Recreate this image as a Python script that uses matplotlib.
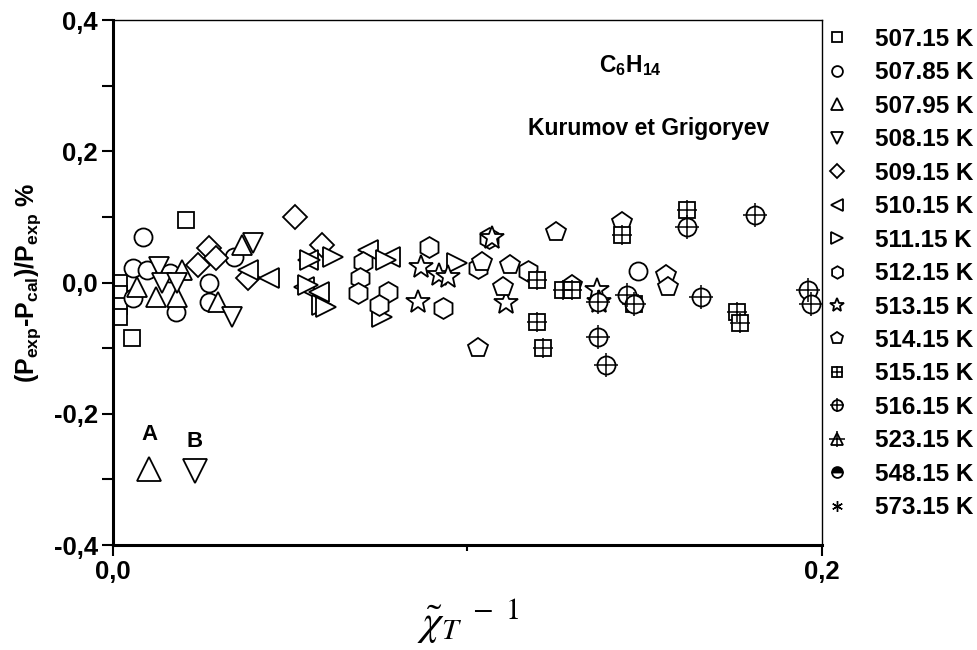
import matplotlib
matplotlib.use("Agg")
import matplotlib.pyplot as plt
from matplotlib.ticker import MultipleLocator, FuncFormatter
from matplotlib.legend_handler import HandlerTuple

plt.rcParams['font.family'] = ['Liberation Sans', 'DejaVu Sans']
plt.rcParams['mathtext.fontset'] = 'custom'
plt.rcParams['mathtext.rm'] = 'Liberation Sans:bold'
plt.rcParams['mathtext.bf'] = 'Liberation Sans:bold'
plt.rcParams['mathtext.it'] = 'Liberation Sans:bold'

# data
labels = ['507.15 K', '507.85 K', '507.95 K', '508.15 K', '509.15 K', '510.15 K',
          '511.15 K', '512.15 K', '513.15 K', '514.15 K', '515.15 K', '516.15 K',
          '523.15 K', '548.15 K', '573.15 K']

x_50715 = [0.0018, 0.0018, 0.0018, 0.0018, 0.0054, 0.0206]
y_50715 = [0.0, -0.018, -0.036, -0.053, -0.085, 0.096]
x_50785 = [0.0085, 0.0056, 0.0096, 0.0056, 0.016, 0.0178, 0.027, 0.027, 0.034, 0.148]
y_50785 = [0.070, 0.022, 0.019, -0.024, 0.014, -0.045, 0.0, -0.03, 0.039, 0.018]
x_50795 = [0.0068, 0.012, 0.018, 0.0195, 0.0296, 0.0364]
y_50795 = [-0.007, -0.022, -0.022, 0.019, -0.03, 0.057]
x_50815 = [0.013, 0.0138, 0.018, 0.0336, 0.0395]
y_50815 = [0.024, 0.0, 0.0, -0.052, 0.06]
x_50915 = [0.0513, 0.059, 0.027, 0.029, 0.024, 0.038]
y_50915 = [0.1, 0.057, 0.052, 0.037, 0.027, 0.007]
x_51015 = [0.038, 0.044, 0.055, 0.054, 0.072, 0.078, 0.058]
y_51015 = [0.019, 0.007, 0.034, -0.007, 0.05, 0.039, -0.015]
x_51115 = [0.062, 0.059, 0.055, 0.0556, 0.06, 0.076, 0.077, 0.097]
y_51115 = [0.039, -0.034, -0.004, 0.034, -0.037, -0.052, 0.034, 0.030]
x_51215 = [0.0705, 0.0697, 0.069, 0.0775, 0.075, 0.089, 0.093, 0.103, 0.106, 0.117]
y_51215 = [0.031, 0.007, -0.016, -0.014, -0.034, 0.054, -0.039, 0.022, 0.068, 0.018]
x_51315 = [0.107, 0.087, 0.086, 0.092, 0.0945, 0.111, 0.1365, 0.137]
y_51315 = [0.068, 0.024, -0.03, 0.011, 0.008, -0.031, -0.011, -0.03]
x_51415 = [0.103, 0.104, 0.112, 0.11, 0.125, 0.1435, 0.1295, 0.156, 0.1565]
y_51415 = [-0.1, 0.031, 0.027, -0.007, 0.077, 0.092, -0.004, 0.011, -0.007]
x_51515 = [0.1195, 0.1195, 0.1213, 0.127, 0.1295, 0.147, 0.1435, 0.162, 0.176, 0.177]
y_51515 = [0.004, -0.06, -0.1, -0.011, -0.011, -0.032, 0.072, 0.11, -0.045, -0.062]
x_51615 = [0.1368, 0.145, 0.147, 0.1368, 0.139, 0.162, 0.166, 0.181, 0.196, 0.197]
y_51615 = [-0.03, -0.019, -0.032, -0.083, -0.126, 0.085, -0.022, 0.103, -0.011, -0.032]
x_52315, y_52315 = [], []
x_54815, y_54815 = [], []
x_57315, y_57315 = [], []

# A / B markers
x_A, y_A = [0.0102], [-0.284]
x_B, y_B = [0.0231], [-0.287]

series = [
    (x_50715, y_50715, 's', None),
    (x_50785, y_50785, 'o', None),
    (x_50795, y_50795, '^', None),
    (x_50815, y_50815, 'v', None),
    (x_50915, y_50915, 'D', None),
    (x_51015, y_51015, '<', None),
    (x_51115, y_51115, '>', None),
    (x_51215, y_51215, 'h', None),
    (x_51315, y_51315, '*', None),
    (x_51415, y_51415, 'p', None),
    (x_51515, y_51515, 's', '+'),
    (x_51615, y_51615, 'o', '+'),
    (x_52315, y_52315, '^', '+'),
    (x_54815, y_54815, 'o', None),
    (x_57315, y_57315, (6, 2, 0), None),
]
sizes = {'s': 11, 'o': 13, '^': 15, 'v': 15, 'D': 12, '<': 15, '>': 15,
         'h': 15, '*': 18, 'p': 15}

fig = plt.figure(figsize=(9.77, 6.5), dpi=100)
ax = fig.add_axes([0.1157, 0.1615, 0.7256, 0.8075])

handles = []
for i, (xs, ys, m, over) in enumerate(series):
    ms = sizes.get(m, 13) if isinstance(m, str) else 13
    kw = dict(ls='none', marker=m, ms=ms, mec='black', mfc='white', mew=1.3)
    if i == 13:
        kw.update(mfc='black', fillstyle='top', mfcalt='white')
    if m == (6, 2, 0):
        kw.update(mew=1.0)
    h1, = ax.plot(xs, ys, **kw)
    if over:
        h2, = ax.plot(xs, ys, ls='none', marker=over, ms=ms + 4, mec='black', mew=1.1)
        handles.append((h1, h2))
    else:
        handles.append(h1)

ax.plot(x_A, y_A, ls='none', marker='^', ms=17, mec='black', mfc='white', mew=1.3)
ax.plot(x_B, y_B, ls='none', marker='v', ms=17, mec='black', mfc='white', mew=1.3)
ax.text(x_A[0], y_A[0] + 0.036, 'A', ha='center', va='bottom', fontsize=16, fontweight='bold')
ax.text(x_B[0], y_B[0] + 0.029, 'B', ha='center', va='bottom', fontsize=16, fontweight='bold')

ax.text(0.146, 0.331, r'C$_\mathbf{6}$H$_\mathbf{14}$', ha='center', va='center',
        fontsize=16.5, fontweight='bold')
ax.text(0.151, 0.235, 'Kurumov et Grigoryev', ha='center', va='center',
        fontsize=16.5, fontweight='bold')

ax.set_xlim(0, 0.2)
ax.set_ylim(-0.4, 0.4)
ax.xaxis.set_major_locator(MultipleLocator(0.2))
ax.xaxis.set_minor_locator(MultipleLocator(0.1))
ax.yaxis.set_major_locator(MultipleLocator(0.2))
ax.yaxis.set_minor_locator(MultipleLocator(0.1))
fmt = FuncFormatter(lambda v, p: ('%.1f' % v).replace('.', ','))
ax.xaxis.set_major_formatter(fmt)
ax.yaxis.set_major_formatter(fmt)
ax.tick_params(axis='both', which='major', direction='out', length=8, width=1.5,
               labelsize=18.5, pad=3)
ax.tick_params(axis='y', which='minor', direction='out', length=8, width=1.5)
ax.tick_params(axis='x', which='minor', direction='out', length=4, width=1.5)
for lab in ax.get_xticklabels() + ax.get_yticklabels():
    lab.set_fontweight('bold')
ax.spines['left'].set_linewidth(2.2)
ax.spines['bottom'].set_linewidth(2.2)
ax.spines['top'].set_linewidth(1.0)
ax.spines['right'].set_linewidth(1.0)

ax.set_ylabel(r'(P$_\mathbf{exp}$-P$_\mathbf{cal}$)/P$_\mathbf{exp}$ %', fontsize=18,
              fontweight='bold', labelpad=8)
ax.set_xlabel(r'${\tilde{\chi}_T}^{\ -\ 1}$', fontsize=31, fontweight='normal',
              math_fontfamily='stix', labelpad=9)

leg = ax.legend(handles, labels, loc='upper left', bbox_to_anchor=(1.0, 1.0),
                frameon=False, markerscale=0.6, fontsize=17.5, handlelength=0.6,
                handletextpad=1.25, labelspacing=0.43, borderaxespad=0.0,
                borderpad=0.32, handler_map={tuple: HandlerTuple(ndivide=1)})
for t in leg.get_texts():
    t.set_fontweight('bold')

fig.savefig('out.png', dpi=100)
